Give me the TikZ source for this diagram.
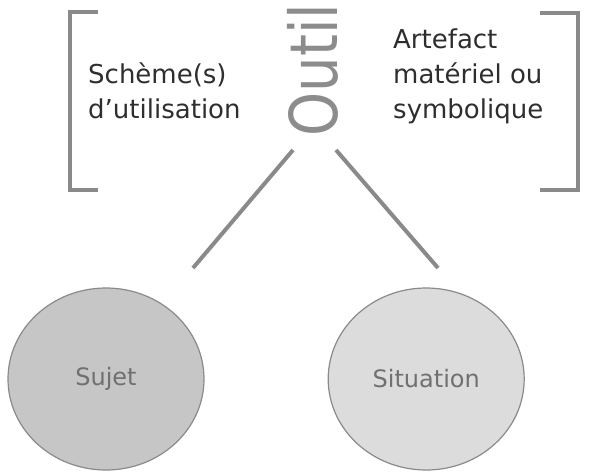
\documentclass[tikz,border=0pt]{standalone}
\usepackage{fontspec}
\setmainfont{DejaVu Sans}
\usetikzlibrary{shapes.geometric}
\usetikzlibrary{positioning}
\definecolor{linegray}{HTML}{8A8A8A}
\definecolor{outilgray}{HTML}{8C8C8C}
\definecolor{textdark}{HTML}{2E2E2E}
\definecolor{labelgray}{HTML}{707070}
\definecolor{sujetfill}{HTML}{C6C6C6}
\definecolor{situationfill}{HTML}{DCDCDC}

\begin{document}
\begin{tikzpicture}
	[
		x = 1pt, y = -1pt,
		mybracket/.style = {draw = linegray, line width = 4.5pt},
		mylink/.style = {draw = linegray, line width = 4pt},
		mytext/.style = {inner sep = 0pt, align = left, text = textdark, font = \fontsize{26}{35}\selectfont},
		myellipse/.style = {draw = linegray, line width = 1.2pt, ellipse, minimum width = 196pt, minimum height = 182pt, text = labelgray, font = \fontsize{24}{28}\selectfont}
	]
	\useasboundingbox (0,0) rectangle (596,471);
	%
	\node (outil) [inner sep = 0pt, rotate = 90, text = outilgray, font = \fontsize{66}{66}\selectfont] at (313,70) {\scalebox{0.85}[1]{Outil}};
	%
	\draw [mybracket] (98,12) -- (70,12) -- (70,190) -- (98,190);
	\node (scheme) [mytext, anchor = base west] at (88,118) {Schème(s)\\d’utilisation};
	%
	\draw [mybracket] (540,13) -- (578,13) -- (578,190) -- (540,190);
	\node (artefact) [mytext, anchor = base west] at (393,118) {Artefact\\matériel ou\\symbolique};
	%
	\node (sujet) [myellipse, fill = sujetfill] at (106,379) {Sujet};
	\node (situation) [myellipse, fill = situationfill, right = 123pt of sujet] {Situation};
	%
	\coordinate (outilleft) at (293,150);
	\coordinate (outilright) at (336,150);
	\coordinate (sujettop) at (193,268);
	\coordinate (situationtop) at (438,268);
	\draw [mylink] (outilleft) -- (sujettop);
	\draw [mylink] (outilright) -- (situationtop);
	%
\end{tikzpicture}
\end{document}
